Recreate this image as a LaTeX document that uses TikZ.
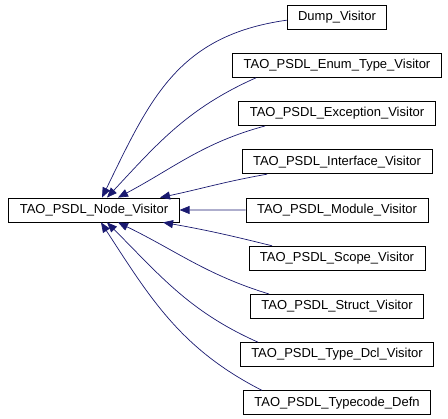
\documentclass[tikz,border=0pt]{standalone}
\usepackage{fontspec}
\setmainfont{Liberation Sans}
\usetikzlibrary{arrows.meta, positioning}
\definecolor{edgeblue}{RGB}{25,25,112}
\tikzset{
  classbox/.style = {draw=black, fill=white, line width=0.8pt,
    font=\fontsize{13}{15}\selectfont, minimum height=24pt,
    inner xsep=11pt, inner ysep=0pt},% boite de classe
  inherit/.style = {draw=edgeblue, line width=0.7pt,
    -{Triangle[length=10pt, width=8pt]}}% lien d'heritage
}
\begin{document}
\begin{tikzpicture}[x=1pt, y=1pt, grow'=east,
  level/.style={sibling distance=48.2pt, level distance=243pt},
  edge from parent/.style={draw=none}]
\useasboundingbox (0,0) rectangle (448,419);
\node [classbox] (base) at (94,209) {TAO\_PSDL\_Node\_Visitor}
    child{ node [classbox] (dump) {Dump\_Visitor}}
    child{ node [classbox] (enum) {TAO\_PSDL\_Enum\_Type\_Visitor}}
    child{ node [classbox] (excp) {TAO\_PSDL\_Exception\_Visitor}}
    child{ node [classbox] (intf) {TAO\_PSDL\_Interface\_Visitor}}
    child{ node [classbox] (modl) {TAO\_PSDL\_Module\_Visitor}}
    child{ node [classbox] (scop) {TAO\_PSDL\_Scope\_Visitor}}
    child{ node [classbox] (strc) {TAO\_PSDL\_Struct\_Visitor}}
    child{ node [classbox] (tdcl) {TAO\_PSDL\_Type\_Dcl\_Visitor}}
    child{ node [classbox] (tcod) {TAO\_PSDL\_Typecode\_Defn}}
;
% heritage, du haut vers le bas
\draw [inherit] ([yshift=-3pt]dump.west) to[out=188, in=64, looseness=1.1] ([xshift=8pt]base.north);
\draw [inherit] ([xshift=-81pt]enum.south) to[out=204, in=47] ([xshift=13pt]base.north);
\draw [inherit] ([xshift=-72pt]excp.south) to[out=195, in=28] ([xshift=24pt]base.north);
\draw [inherit] ([xshift=-70pt]intf.south) to[out=190, in=12] ([xshift=66pt]base.north);
\draw [inherit] (modl.west) -- (base.east);
\draw [inherit] ([xshift=-65pt]scop.north) to[out=166, in=-10] ([xshift=69pt]base.south);
\draw [inherit] ([xshift=-68pt]strc.north) to[out=163, in=-26] ([xshift=24pt]base.south);
\draw [inherit] ([xshift=-79pt]tdcl.north) to[out=156, in=-45] ([xshift=13pt]base.south);
\draw [inherit] ([xshift=-75pt]tcod.north) to[out=153, in=-57] ([xshift=7pt]base.south);
\end{tikzpicture}
\end{document}
